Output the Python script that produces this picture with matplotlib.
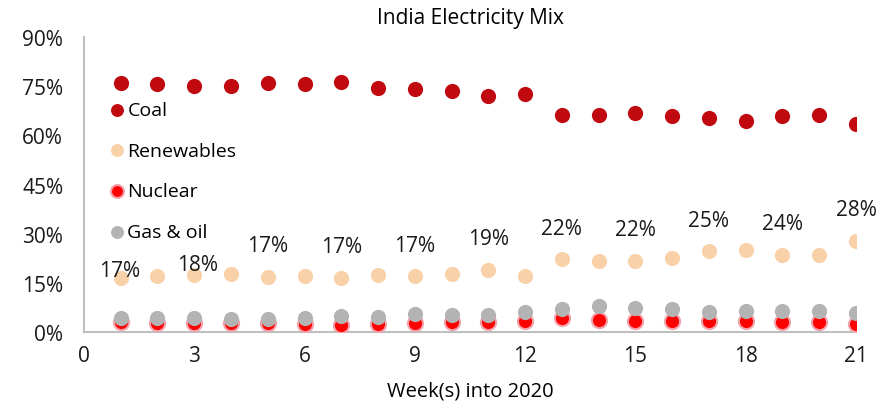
import matplotlib
matplotlib.use("Agg")
import matplotlib.pyplot as plt
from matplotlib.ticker import FuncFormatter, MultipleLocator

plt.rcParams['font.family'] = ['Open Sans', 'DejaVu Sans']

weeks = list(range(1, 22))
coal = [75.9, 75.7, 75.1, 75.0, 75.9, 75.6, 76.2, 74.5, 74.2, 73.5, 72.1,
        72.6, 66.2, 66.2, 66.8, 66.0, 65.2, 64.4, 66.0, 66.2, 63.4]
renewables = [16.6, 17.0, 17.5, 17.6, 16.8, 17.0, 16.6, 17.4, 17.0, 17.6, 19.0,
              17.2, 22.2, 21.7, 21.8, 22.7, 24.6, 25.1, 23.6, 23.5, 27.8]
nuclear = [2.95, 2.6, 2.6, 2.6, 2.6, 2.45, 2.25, 2.45, 2.7, 2.95, 2.9,
           3.45, 4.2, 3.7, 3.45, 3.45, 3.45, 3.25, 2.95, 2.95, 2.45]
gas_oil = [4.2, 4.2, 4.2, 4.0, 4.0, 4.2, 4.8, 4.7, 5.4, 5.2, 5.2,
           6.0, 7.0, 8.0, 7.2, 7.0, 6.2, 6.3, 6.4, 6.4, 5.8]

# renewables share is annotated on every other week
label_weeks = [1, 3, 5, 7, 9, 11, 13, 15, 17, 19, 21]

fig = plt.figure(figsize=(8.83, 4.06), dpi=100)
ax = fig.add_axes([0.0951, 0.1798, 0.8743, 0.7266])

ms = 120
ax.scatter(weeks, coal, s=ms, color='#C00A0F', linewidths=0, label='Coal', zorder=3)
ax.scatter(weeks, renewables, s=ms, color='#F9D1A8', linewidths=0, label='Renewables', zorder=3)
ax.scatter(weeks, nuclear, s=ms, color='#FF0000', edgecolors='#F2A3AC', linewidths=1.5,
           label='Nuclear', zorder=3)
ax.scatter(weeks, gas_oil, s=ms, color='#B3B3B3', linewidths=0, label='Gas & oil', zorder=4)

for w in label_weeks:
    v = renewables[w - 1]
    if w == 1:
        off = (-1, 7)
    elif w == 3:
        off = (3, 10)
    else:
        off = (0, 31)
    ax.annotate(f"{v:.0f}%", (w, v), xytext=off, textcoords='offset pixels',
                ha='center', va='center', fontsize=15, color='#1a1a1a')

ax.set_xlim(0, 21)
ax.set_ylim(0, 90)
ax.xaxis.set_major_locator(MultipleLocator(3))
ax.yaxis.set_major_locator(MultipleLocator(15))
ax.yaxis.set_major_formatter(FuncFormatter(lambda v, p: f"{v:.0f}%"))
ax.tick_params(length=0, labelsize=15, colors='#1a1a1a')
ax.tick_params(axis='x', pad=9)
ax.tick_params(axis='y', pad=15)

for side in ('top', 'right'):
    ax.spines[side].set_visible(False)
for side in ('left', 'bottom'):
    ax.spines[side].set_color('#BFBFBF')
    ax.spines[side].set_linewidth(1.5)

ax.set_xlabel('Week(s) into 2020', fontsize=14.5, color='black', labelpad=11)
ax.set_title('India Electricity Mix', fontsize=15, color='black', pad=10)

ax.legend(loc='upper left', bbox_to_anchor=(0.0324, 0.783), frameon=False,
          fontsize=14, handlelength=0.8, handletextpad=0.15, labelspacing=1.16,
          markerscale=0.85, borderaxespad=0, borderpad=0)

fig.savefig('out.png', dpi=100)
